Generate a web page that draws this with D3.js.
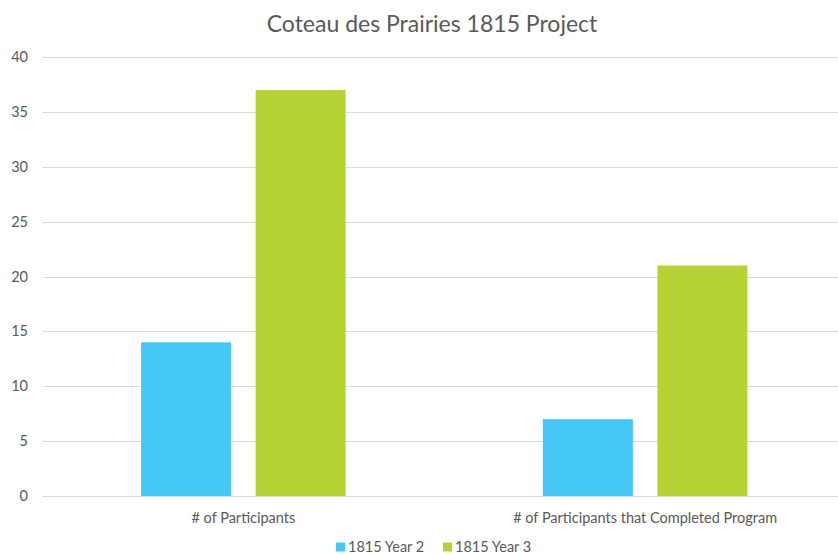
<!DOCTYPE html>
<html>
<head>
<meta charset="utf-8">
<script src="https://cdn.jsdelivr.net/npm/d3@7"></script>
<style>
  body { margin: 0; background: #fff; }
  svg { display: block; font-family: Lato, "Open Sans", sans-serif; }
</style>
</head>
<body>
<div id="chart"></div>
<script>
// chart data
var categories = ["# of Participants", "# of Participants that Completed Program"];
var seriesNames = ["1815 Year 2", "1815 Year 3"];
var year2 = [14, 7];
var year3 = [37, 21];
var yTicks = [0, 5, 10, 15, 20, 25, 30, 35, 40];
var colors = ["#45c8f5", "#b5d334"];

var width = 838, height = 554;
var margin = {top: 57, left: 42.5, bottom: 58};
var plotRight = 846; // plot area runs slightly past the page edge

var svg = d3.select("#chart").append("svg")
    .attr("width", width)
    .attr("height", height);

var x = d3.scaleBand()
    .domain(categories)
    .range([margin.left, plotRight]);

var y = d3.scaleLinear()
    .domain([0, 40])
    .range([height - margin.bottom, margin.top]);

var x1 = d3.scaleBand()
    .domain(seriesNames)
    .range([0, x.bandwidth()])
    .paddingInner(0.214)
    .paddingOuter(0.861);

// gridlines
svg.append("g")
  .selectAll("line")
  .data(yTicks)
  .enter()
  .append("line")
    .attr("x1", margin.left)
    .attr("x2", width)
    .attr("y1", function(d) { return Math.round(y(d)) + 0.5; })
    .attr("y2", function(d) { return Math.round(y(d)) + 0.5; })
    .attr("stroke", "#d9d9d9")
    .attr("stroke-width", 1);

// y tick labels
svg.append("g")
  .selectAll("text")
  .data(yTicks)
  .enter()
  .append("text")
    .attr("x", 28)
    .attr("y", function(d) { return y(d); })
    .attr("dy", "0.35em")
    .attr("text-anchor", "end")
    .attr("fill", "#595959")
    .style("font-size", "14.5px")
    .text(function(d) { return d; });

// bars
var seriesData = [year2, year3];
var groups = svg.append("g")
  .selectAll("g")
  .data(seriesNames)
  .enter()
  .append("g")
    .attr("fill", function(d, i) { return colors[i]; });

groups.selectAll("rect")
  .data(function(d, i) {
      return categories.map(function(c, j) { return {cat: c, series: d, value: seriesData[i][j]}; });
  })
  .enter()
  .append("rect")
    .attr("x", function(d) { return x(d.cat) + x1(d.series); })
    .attr("width", x1.bandwidth())
    .attr("y", function(d) { return y(d.value); })
    .attr("height", function(d) { return y(0) - y(d.value); });

// category labels
svg.append("g")
  .selectAll("text")
  .data(categories)
  .enter()
  .append("text")
    .attr("x", function(d) { return x(d) + x.bandwidth() / 2; })
    .attr("y", 523)
    .attr("text-anchor", "middle")
    .attr("fill", "#595959")
    .style("font-size", "14.5px")
    .text(function(d) { return d; });

// title
svg.append("text")
    .attr("x", 432)
    .attr("y", 32)
    .attr("text-anchor", "middle")
    .attr("fill", "#595959")
    .style("font-size", "23px")
    .text("Coteau des Prairies 1815 Project");

// legend
var legendX = [336, 443];
var legend = svg.append("g")
  .selectAll("g")
  .data(seriesNames)
  .enter()
  .append("g")
    .attr("transform", function(d, i) { return "translate(" + legendX[i] + ",547)"; });

legend.append("rect")
    .attr("x", 0)
    .attr("y", -4.5)
    .attr("width", 9)
    .attr("height", 9)
    .attr("fill", function(d, i) { return colors[i]; });

legend.append("text")
    .attr("x", 12)
    .attr("y", 0)
    .attr("dy", "0.35em")
    .attr("fill", "#595959")
    .style("font-size", "14.5px")
    .text(function(d) { return d; });
</script>
</body>
</html>
